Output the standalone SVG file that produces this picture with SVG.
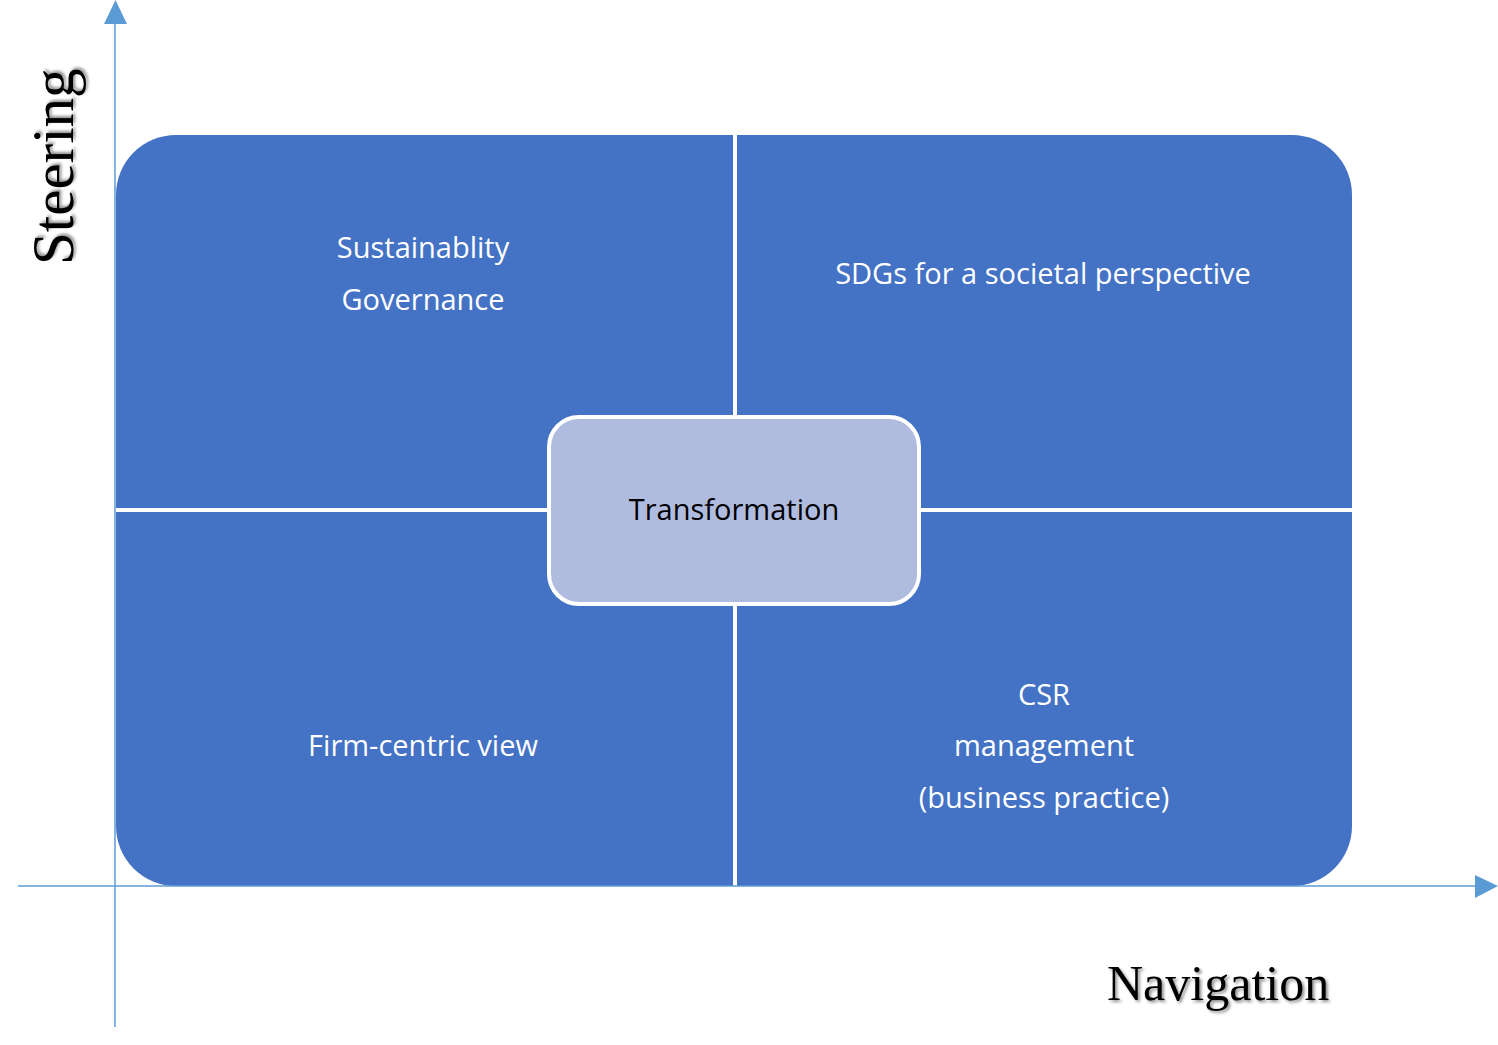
<svg xmlns="http://www.w3.org/2000/svg" width="1498" height="1045" viewBox="0 0 1498 1045">
<defs>
<style>
.q{fill:#4472C4;}
.lbl{font-family:"Open Sans","Liberation Sans",sans-serif;font-size:29px;fill:#FFFFFF;text-anchor:middle;}
.dark{fill:#000000;}
.axis{stroke:#5B9BD5;stroke-width:1.5;fill:none;}
.ah{fill:#5B9BD5;}
.ttl{font-family:"Liberation Serif","Times New Roman",serif;fill:#000000;}
</style>
<filter id="sh" x="-10%" y="-10%" width="130%" height="140%">
<feDropShadow dx="2" dy="2" stdDeviation="1.5" flood-color="#000000" flood-opacity="0.45"/>
</filter>
</defs>
<rect width="1498" height="1045" fill="#FFFFFF"/>
<g id="q-tl"><path class="q" d="M116,195 A60 60 0 0 1 176,135 H733 V508 H116 Z"/>
<text class="lbl" x="423" y="258">Sustainablity</text>
<text class="lbl" x="423" y="310">Governance</text></g>
<g id="q-tr"><path class="q" d="M737,135 H1292 A60 60 0 0 1 1352,195 V508 H737 Z"/>
<text class="lbl" x="1043" y="284">SDGs for a societal perspective</text></g>
<g id="q-bl"><path class="q" d="M116,512 H733 V886 H176 A60 60 0 0 1 116,826 Z"/>
<text class="lbl" x="423" y="756">Firm-centric view</text></g>
<g id="q-br"><path class="q" d="M737,512 H1352 V826 A60 60 0 0 1 1292,886 H737 Z"/>
<text class="lbl" x="1044" y="705">CSR</text>
<text class="lbl" x="1044" y="756">management</text>
<text class="lbl" x="1044" y="808">(business practice)</text></g>
<g id="center"><rect x="549" y="417" width="370" height="187" rx="30" fill="#B0BCDF" stroke="#FFFFFF" stroke-width="4"/>
<text class="lbl dark" x="734" y="520">Transformation</text></g>
<g id="connectors">
<line class="axis" x1="115" y1="1027" x2="115" y2="22"/>
<polygon class="ah" points="104,24 127,24 115.5,0"/>
<line class="axis" x1="18" y1="886" x2="1477" y2="886"/>
<polygon class="ah" points="1475,875 1475,898 1498,886"/>
</g>
<g id="label-steering"><text class="ttl" filter="url(#sh)" font-size="59" transform="translate(73,265) rotate(-90)">Steering</text></g>
<g id="label-navigation"><text class="ttl" filter="url(#sh)" font-size="50" x="1107" y="1000">Navigation</text></g>
</svg>
